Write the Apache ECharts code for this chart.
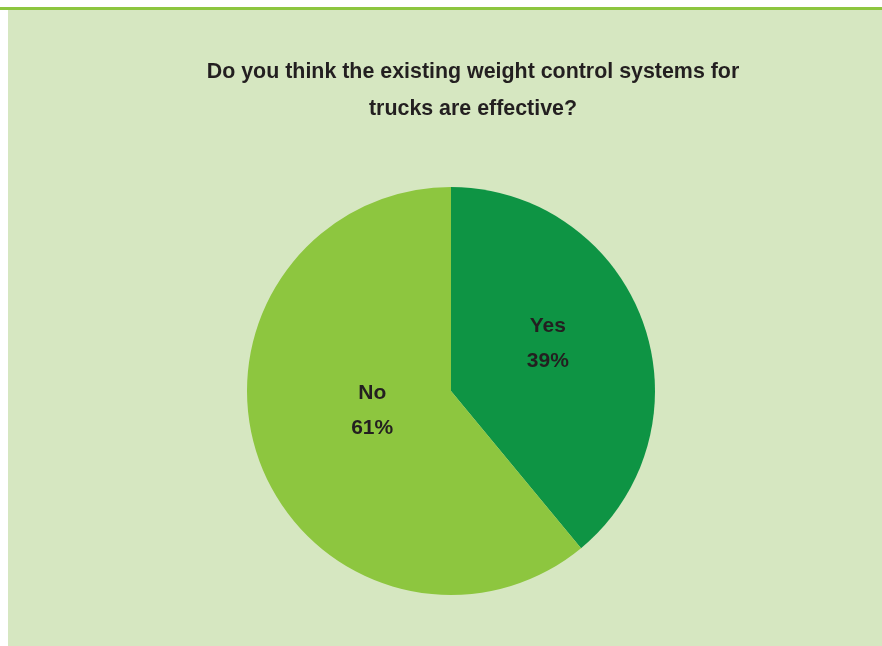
<!DOCTYPE html>
<html>
<head>
<meta charset="utf-8">
<script src="https://cdn.jsdelivr.net/npm/echarts@6/dist/echarts.min.js"></script>
<style>
html,body{margin:0;padding:0;background:#ffffff;width:882px;height:646px;overflow:hidden;}
#topline{position:absolute;left:0;top:7px;width:882px;height:3px;background:#8dc63f;}
#chart{position:absolute;left:8px;top:10px;width:874px;height:636px;background:#d6e7c1;}
</style>
</head>
<body>
<div id="topline"></div>
<div id="chart"></div>
<script>
var titleLines = ["Do you think the existing weight control systems for", "trucks are effective?"];
var categories = ["Yes", "No"];
var values = [39, 61];
var colors = ["#0e9444", "#8dc63f"];
var labelOffsets = [[-2, -12], [20, -16]];

var chart = echarts.init(document.getElementById('chart'), null, {renderer: 'canvas'});
chart.setOption({
  backgroundColor: '#d6e7c1',
  animation: false,
  title: {
    text: titleLines.join('\n'),
    left: 460,
    top: 39,
    textAlign: 'center',
    textStyle: {
      fontFamily: 'Liberation Sans, Arial, sans-serif',
      fontSize: 21.4,
      fontWeight: 'bold',
      color: '#231f20',
      lineHeight: 37
    }
  },
  series: [{
    type: 'pie',
    center: [443, 381],
    radius: [0, 204],
    startAngle: 90,
    clockwise: true,
    silent: true,
    label: {
      show: true,
      position: 'inside',
      formatter: function (p) { return p.name + '\n' + p.value + '%'; },
      fontFamily: 'Liberation Sans, Arial, sans-serif',
      fontSize: 21,
      fontWeight: 'bold',
      color: '#231f20',
      lineHeight: 35
    },
    labelLine: {show: false},
    itemStyle: {borderWidth: 0},
    data: categories.map(function (c, i) {
      return {
        name: c,
        value: values[i],
        itemStyle: {color: colors[i]},
        label: {offset: labelOffsets[i]}
      };
    })
  }]
});
</script>
</body>
</html>
